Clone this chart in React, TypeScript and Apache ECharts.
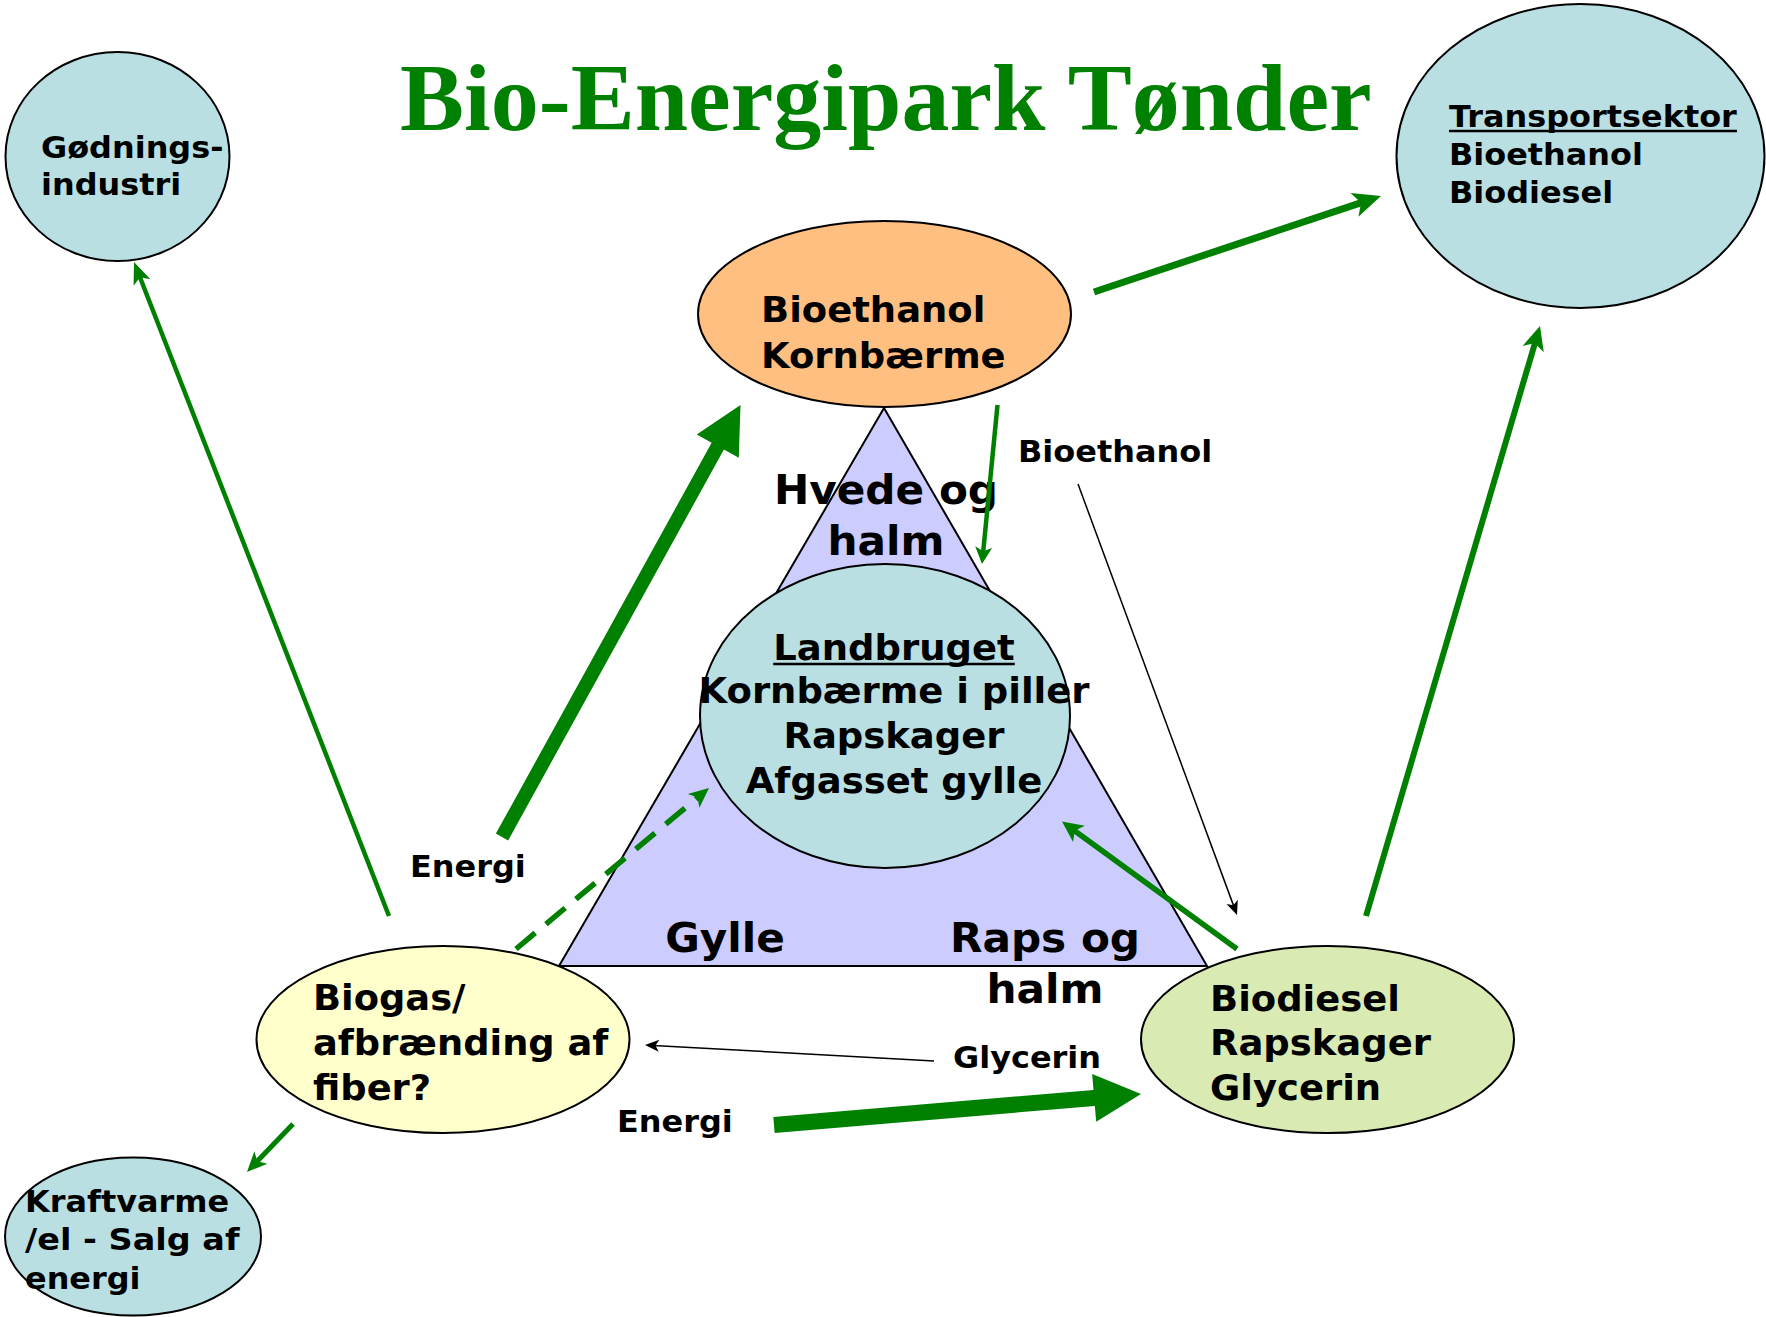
import React, { useEffect, useRef } from "react";
import * as echarts from "echarts";

// ---- content (texts of the diagram) ----
const TITLE = "Bio-Energipark Tønder";
const godningsLines = ["Gødnings-", "industri"];
const transportHeading = "Transportsektor";
const transportLines = ["Bioethanol", "Biodiesel"];
const bioethanolLines = ["Bioethanol", "Kornbærme"];
const landbrugHeading = "Landbruget";
const landbrugLines = ["Kornbærme i piller", "Rapskager", "Afgasset gylle"];
const biogasLines = ["Biogas/", "afbrænding af", "fiber?"];
const biodieselLines = ["Biodiesel", "Rapskager", "Glycerin"];
const kraftLines = ["Kraftvarme", "/el - Salg af", "energi"];
const triangleTopLabel = ["Hvede og", "halm"];
const triangleLeftLabel = ["Gylle"];
const triangleRightLabel = ["Raps og", "halm"];
const flowLabels = ["Bioethanol", "Energi", "Energi", "Glycerin"];

const GREEN = "#008000";
const SANS = '"DejaVu Sans", Verdana, sans-serif';
const SERIF = '"Liberation Serif", "Times New Roman", serif';

function measure(text: string, font: string): number {
  const c = document.createElement("canvas").getContext("2d");
  if (!c) return text.length * 10;
  c.font = font;
  return c.measureText(text).width;
}

function txt(x: number, baseline: number, text: string, size: number, align = "left", opts: any = {}) {
  const k = opts.k ?? 0.346;
  const font = `${opts.weight ?? "bold"} ${size}px ${opts.family ?? SANS}`;
  return {
    type: "text",
    x,
    y: baseline - k * size,
    scaleX: opts.scaleX ?? 1,
    z: 20,
    style: {
      text,
      font,
      fill: opts.fill ?? "#000",
      textAlign: align,
      align,
      textVerticalAlign: "middle",
      verticalAlign: "middle",
    },
  };
}

function underline(x: number, baseline: number, text: string, size: number, align = "left", sx = 1) {
  const w = measure(text, `bold ${size}px ${SANS}`) * sx;
  const x0 = align === "center" ? x - w / 2 : x;
  return {
    type: "line",
    z: 20,
    shape: { x1: x0, y1: baseline + 4, x2: x0 + w, y2: baseline + 4 },
    style: { stroke: "#000", lineWidth: 2.5 },
  };
}

function ellipse(cx: number, cy: number, rx: number, ry: number, fill: string) {
  return {
    type: "ellipse",
    z: 5,
    shape: { cx, cy, rx, ry },
    style: { fill, stroke: "#000", lineWidth: 2 },
  };
}

function dirs(x1: number, y1: number, x2: number, y2: number) {
  const dx = x2 - x1, dy = y2 - y1;
  const L = Math.hypot(dx, dy);
  const ux = dx / L, uy = dy / L;
  return { ux, uy, px: -uy, py: ux };
}

function thickArrow(x1: number, y1: number, x2: number, y2: number, s: number, hl: number, hh: number, color: string) {
  const { ux, uy, px, py } = dirs(x1, y1, x2, y2);
  const bx = x2 - ux * hl, by = y2 - uy * hl;
  return {
    type: "polygon",
    z: 30,
    shape: {
      points: [
        [x1 + px * s, y1 + py * s],
        [bx + px * s, by + py * s],
        [bx + px * hh, by + py * hh],
        [x2, y2],
        [bx - px * hh, by - py * hh],
        [bx - px * s, by - py * s],
        [x1 - px * s, y1 - py * s],
      ],
    },
    style: { fill: color },
  };
}

function lineArrow(x1: number, y1: number, x2: number, y2: number, w: number, hl: number, hh: number, color: string, dash?: number[]) {
  const { ux, uy, px, py } = dirs(x1, y1, x2, y2);
  const bx = x2 - ux * hl, by = y2 - uy * hl;
  const ex = x2 - ux * hl * 0.6, ey = y2 - uy * hl * 0.6;
  return [
    {
      type: "line",
      z: 30,
      shape: { x1, y1, x2: ex, y2: ey },
      style: { stroke: color, lineWidth: w, lineDash: dash ?? null },
    },
    {
      type: "polygon",
      z: 31,
      shape: {
        points: [
          [x2, y2],
          [bx + px * hh, by + py * hh],
          [x2 - ux * hl * 0.75, y2 - uy * hl * 0.75],
          [bx - px * hh, by - py * hh],
        ],
      },
      style: { fill: color },
    },
  ];
}

export default function App() {
  const ref = useRef<HTMLDivElement>(null);
  useEffect(() => {
    if (!ref.current) return;
    const chart = echarts.init(ref.current, null, { renderer: "svg" });
    const els: any[] = [];

    // title
    els.push(txt(400, 130, TITLE, 96, "left", { family: SERIF, fill: GREEN, k: 0.3375 }));

    // triangle
    els.push({
      type: "polygon",
      z: 2,
      shape: { points: [[884, 408], [559, 966], [1207, 966]] },
      style: { fill: "#CCCCFF", stroke: "#000", lineWidth: 2 },
    });

    // ellipses
    els.push(ellipse(117.5, 156.5, 112, 104.5, "#B9DFE2"));
    els.push(ellipse(1580.5, 156, 184, 152, "#B9DFE2"));
    els.push(ellipse(884.5, 314, 186.5, 93, "#FFBF80"));
    els.push(ellipse(885, 716, 185, 152, "#B9DFE2"));
    els.push(ellipse(443, 1039.5, 186.5, 93.5, "#FFFFCC"));
    els.push(ellipse(1327.5, 1039.5, 186.5, 93.5, "#D9EAB3"));
    els.push(ellipse(133, 1236.5, 128, 79, "#B9DFE2"));

    // node texts
    godningsLines.forEach((t, i) => els.push(txt(41, 158 + i * 37, t, 31, "left", { scaleX: 1.03 })));
    els.push(txt(1449, 127, transportHeading, 31, "left", { scaleX: 1.03 }));
    els.push(underline(1449, 127, transportHeading, 31, "left", 1.03));
    transportLines.forEach((t, i) => els.push(txt(1449, 165 + i * 38, t, 31, "left", { scaleX: 1.03 })));
    bioethanolLines.forEach((t, i) => els.push(txt(761, 322 + i * 46, t, 35, "left", { scaleX: 1.055 })));
    els.push(txt(894, 660, landbrugHeading, 36, "center", { scaleX: 1.027 }));
    els.push(underline(894, 660, landbrugHeading, 36, "center", 1.027));
    landbrugLines.forEach((t, i) => els.push(txt(894, 703 + i * 45, t, 36, "center", { scaleX: 1.027 })));
    biogasLines.forEach((t, i) => els.push(txt(313, 1010 + i * 45, t, 36, "left", { scaleX: 1.023 })));
    biodieselLines.forEach((t, i) => els.push(txt(1210, 1011 + i * 44.5, t, 36, "left", { scaleX: 1.026 })));
    const kraftScale = [1.03, 1.08, 1.03];
    kraftLines.forEach((t, i) => els.push(txt(25, 1212 + i * 38.5, t, 31, "left", { scaleX: kraftScale[i] })));

    // triangle labels
    triangleTopLabel.forEach((t, i) => els.push(txt(886, 504 + i * 51, t, 40, "center", { scaleX: 1.055 })));
    triangleLeftLabel.forEach((t) => els.push(txt(725, 952, t, 40, "center", { scaleX: 1.055 })));
    triangleRightLabel.forEach((t, i) => els.push(txt(1045, 952 + i * 51, t, 40, "center", { scaleX: 1.055 })));

    // flow labels
    els.push(txt(1018, 462, flowLabels[0], 30, "left", { scaleX: 1.065 }));
    els.push(txt(410, 877, flowLabels[1], 30, "left", { scaleX: 1.065 }));
    els.push(txt(617, 1132, flowLabels[2], 30, "left", { scaleX: 1.065 }));
    els.push(txt(953, 1068, flowLabels[3], 30, "left", { scaleX: 1.065 }));

    // arrows
    els.push(...lineArrow(389, 916, 134, 262, 4.5, 22, 9, GREEN));
    els.push(thickArrow(502, 837, 740.5, 405, 7, 47, 24, GREEN));
    els.push(...lineArrow(516, 949, 709, 788, 5.5, 20, 9, GREEN, [25, 14]));
    els.push(...lineArrow(293, 1124, 247, 1172, 5, 20, 9, GREEN));
    els.push(...lineArrow(934, 1061, 645, 1045, 1.5, 14, 6, "#000"));
    els.push(thickArrow(774, 1125, 1141, 1094, 8, 47, 24, GREEN));
    els.push(...lineArrow(1237, 949, 1062, 821.5, 5.5, 21, 10, GREEN));
    els.push(...lineArrow(1366, 916, 1540, 326, 6, 24, 11, GREEN));
    els.push(...lineArrow(1094, 292, 1381, 196, 7, 28, 12.5, GREEN));
    els.push(...lineArrow(997.5, 405, 982, 564, 4.5, 17, 8.5, GREEN));
    els.push(...lineArrow(1078, 484, 1237, 915, 1.5, 14, 6, "#000"));

    chart.setOption({
      animation: false,
      backgroundColor: "#ffffff",
      graphic: { elements: els },
    });
    return () => chart.dispose();
  }, []);
  return (
    <div
      ref={ref}
      style={{ position: "fixed", left: 0, top: 0, width: 1766, height: 1317, background: "#fff" }}
    />
  );
}
